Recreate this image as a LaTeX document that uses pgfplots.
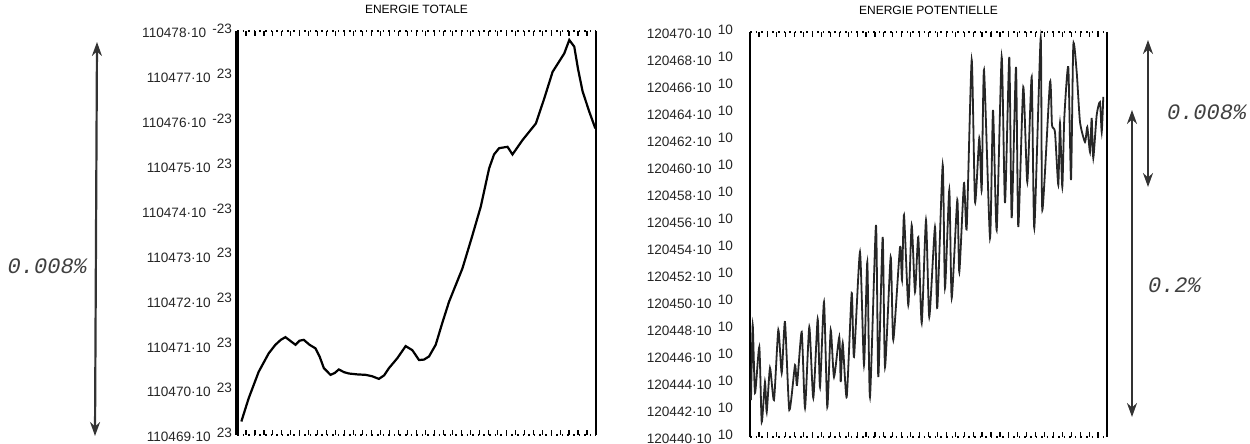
\documentclass[border=0pt]{standalone}
\usepackage{fontspec}
\setmainfont{Liberation Sans}
\newfontfamily\handfont{Liberation Mono}
\usepackage{pgfplots}
\pgfplotsset{compat=1.18}
\usetikzlibrary{arrows.meta}
\newcommand{\lab}[2]{#1·10\hspace{3pt}\raisebox{2.2pt}{#2}}

\pgfplotsset{
  oldframe/.style={
    scale only axis,
    axis line style={draw=none},
    xmin=0, xmax=100,
    xtick={0,2.5,...,100},
    xticklabels={},
    x tick style={line width=0.6pt, black},
    major tick length=2.5pt,
    xtick pos=both,
    xtick align=inside,
    y tick style={draw=none},
    ytick pos=left,
    tick label style={font=\fontsize{6.8}{7}\selectfont, text=black!85},
    title style={font=\fontsize{6}{6}\selectfont, yshift=-1pt},
    clip=false,
  }
}

\begin{document}
\begin{tikzpicture}[x=0.5pt,y=0.5pt]
\useasboundingbox (0,0) rectangle (1250,444);

% ---------- left : energie totale ----------
\begin{axis}[oldframe,
  at={(118.5pt,4.5pt)}, anchor=south west,
  width=179.5pt, height=202pt,
  ymin=0, ymax=9,
  ytick={0,1,...,9},
  yticklabels={\lab{110469}{23},\lab{110470}{23},\lab{110471}{23},\lab{110472}{23},\lab{110473}{23},\lab{110474}{-23},\lab{110475}{23},\lab{110476}{-23},\lab{110477}{23},\lab{110478}{-23}},
  yticklabel style={xshift=1pt},
  title={ENERGIE TOTALE},
]
\draw[line width=1.8pt] (rel axis cs:0,0) -- (rel axis cs:0,1);
\draw[line width=0.9pt] (rel axis cs:1,0) -- (rel axis cs:1,1);
\draw[line width=0.8pt, dotted] (rel axis cs:0,1) -- (rel axis cs:1,1);
\draw[line width=0.8pt, dotted] (rel axis cs:0,0) -- (rel axis cs:1,0);
\addplot[black, line width=1.1pt] coordinates {
(1.21,0.30) (3.26,0.82) (6.05,1.41) (8.84,1.82) (10.70,2.01) (12.2,2.12) (13.49,2.18)
(14.8,2.10) (16.28,2.01) (17.4,2.10) (18.60,2.12) (20.2,2.01) (21.86,1.93)
(23.0,1.75) (24.19,1.49) (26.05,1.34) (27.2,1.38) (28.37,1.46) (29.8,1.40) (31.16,1.37)
(33.5,1.35) (35.81,1.34) (37.6,1.31) (39.53,1.25) (41.0,1.33) (42.33,1.49) (44.65,1.71)
(46.98,1.98) (48.84,1.89) (50.70,1.67) (52.1,1.68) (53.49,1.75) (55.35,2.01)
(57.2,2.50) (59.07,2.97) (62.79,3.71) (65.4,4.40) (67.91,5.09) (70.23,5.94)
(71.6,6.25) (73.02,6.39) (75.35,6.42) (76.74,6.25) (79.53,6.57) (83.26,6.94)
(85.6,7.50) (87.91,8.09) (91.16,8.50) (92.56,8.80) (93.95,8.65) (95.0,8.15)
(96.28,7.65) (98.14,7.20) (99.81,6.83)
};
\end{axis}

% ---------- right : energie potentielle ----------
\begin{axis}[oldframe,
  at={(375pt,3.5pt)}, anchor=south west,
  width=178.5pt, height=202.5pt,
  ymin=0, ymax=30,
  ytick={0,2,...,30},
  yticklabels={\lab{120440}{10},\lab{120442}{10},\lab{120444}{10},\lab{120446}{10},\lab{120448}{10},\lab{120450}{10},\lab{120452}{10},\lab{120454}{10},\lab{120456}{10},\lab{120458}{10},\lab{120460}{10},\lab{120462}{10},\lab{120464}{10},\lab{120466}{10},\lab{120468}{10},\lab{120470}{10}},
  yticklabel style={xshift=-5pt},
  title={ENERGIE POTENTIELLE},
]
\draw[line width=1.3pt] (rel axis cs:0,0) -- (rel axis cs:0,1);
\draw[line width=0.9pt] (rel axis cs:1,0) -- (rel axis cs:1,1);
\draw[line width=0.8pt, dotted] (rel axis cs:0,1) -- (rel axis cs:1,1);
\draw[line width=0.8pt, dotted] (rel axis cs:0,0) -- (rel axis cs:1,0);
\addplot[black!85, line width=0.9pt, smooth, tension=0.35] coordinates {
(0.28,2.74) (0.76,8.30) (1.40,3.26) (2.61,6.67) (3.28,1.11) (4.20,4.07) (4.68,1.85)
(5.60,5.11) (6.72,2.74) (7.93,7.93) (8.88,4.74) (9.80,8.52) (11.01,2.00) (12.61,5.33)
(13.17,3.85) (14.48,7.78) (15.41,2.15) (16.61,8.15) (17.73,2.89) (18.96,8.74)
(19.61,3.70) (20.73,10.00) (21.65,2.22) (22.61,7.93) (23.53,4.44) (25.01,7.41)
(25.41,4.07) (25.97,6.96) (27.09,2.96) (28.49,10.67) (29.13,5.93) (30.81,13.70)
(31.93,5.33) (32.86,12.96) (33.61,2.96) (35.29,15.70) (35.94,4.44) (37.17,14.81)
(37.82,5.19) (39.41,13.33) (40.14,7.19) (42.02,14.07) (42.58,11.63) (43.14,16.44)
(44.34,9.78) (45.29,15.70) (46.22,10.74) (47.14,14.81) (48.10,8.44) (49.30,16.07)
(50.22,8.89) (51.82,15.56) (52.46,9.56) (53.98,20.15) (54.62,11.04) (55.83,18.30)
(56.50,10.30) (58.07,17.56) (58.63,12.22) (59.94,18.81) (60.70,15.48) (62.10,27.93)
(63.03,17.41) (64.23,22.15) (64.90,18.30) (65.55,27.19) (67.23,14.74) (68.07,24.22)
(69.10,15.33) (70.50,28.15) (71.43,17.33) (72.63,28.15) (73.30,16.22) (74.51,27.41)
(75.15,15.56) (76.55,25.93) (77.68,18.89) (78.91,26.67) (79.64,15.48) (81.43,29.56)
(81.88,16.81) (84.03,26.30) (84.59,23.11) (85.43,22.59) (86.36,18.67) (86.83,23.26)
(87.48,18.52) (88.04,23.63) (89.16,27.41) (89.92,19.04) (90.56,29.04) (91.51,27.04)
(92.44,23.33) (93.84,21.85) (94.48,22.96) (95.24,21.11) (95.71,23.63) (96.16,20.67)
(97.11,23.85) (98.04,24.81) (98.52,22.59) (98.96,25.19)
};
\end{axis}

% ---------- hand-drawn annotations ----------
\tikzset{handarrow/.style={line width=1.1pt, black!80, {Stealth[length=7pt,width=5pt]}-{Stealth[length=7pt,width=5pt]}}}
\draw[handarrow] (97,402) -- (95,8);
\node[font=\handfont\itshape\fontsize{11}{12}\selectfont, text=black!75, anchor=east] at (94,178) {0.008\%};

\draw[handarrow] (1148,404) -- (1148,257);
\node[font=\handfont\itshape\fontsize{11}{12}\selectfont, text=black!75, anchor=west] at (1160,332) {0.008\%};

\draw[handarrow] (1132,334) -- (1132,27);
\node[font=\handfont\itshape\fontsize{11}{12}\selectfont, text=black!75, anchor=west] at (1141,159) {0.2\%};
\end{tikzpicture}
\end{document}
